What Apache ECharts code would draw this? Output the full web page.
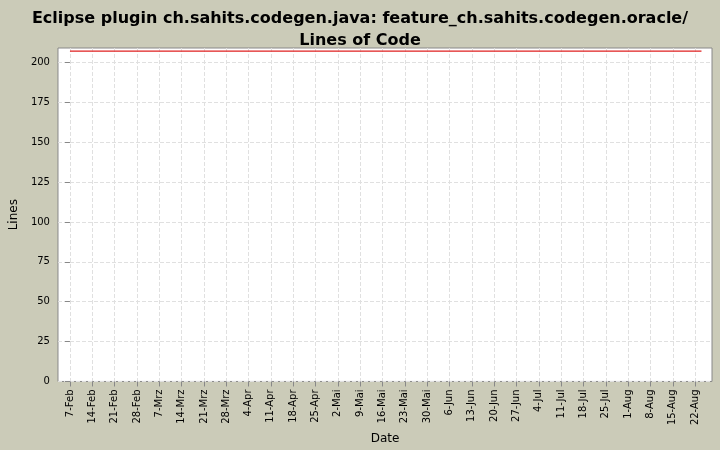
<!DOCTYPE html><html><head><meta charset="utf-8"><script src="https://cdn.jsdelivr.net/npm/echarts@6/dist/echarts.min.js"></script></head>
<body style="margin:0;background:#cbcbb8"><div id="c" style="width:720px;height:450px"></div><script>
const tickLabels=["7-Feb","14-Feb","21-Feb","28-Feb","7-Mrz","14-Mrz","21-Mrz","28-Mrz","4-Apr","11-Apr","18-Apr","25-Apr","2-Mai","9-Mai","16-Mai","23-Mai","30-Mai","6-Jun","13-Jun","20-Jun","27-Jun","4-Jul","11-Jul","18-Jul","25-Jul","1-Aug","8-Aug","15-Aug","22-Aug"];
const pointDays=[0,28,56,84,112,140,168,198];
const lines=[207,207,207,207,207,207,207,207];
const tickDays=tickLabels.map((_,i)=>i*7);
const yTicks=[0,25,50,75,100,125,150,175,200];
const ch=echarts.init(document.getElementById('c'));
ch.setOption({backgroundColor:'#cbcbb8',animation:false,
title:{text:'Eclipse plugin ch.sahits.codegen.java: feature_ch.sahits.codegen.oracle/\nLines of Code',left:'center',top:3,textStyle:{fontFamily:'DejaVu Sans',fontSize:16,fontWeight:'bold',color:'#000',lineHeight:22}},
grid:{left:55,right:8,top:48,bottom:64,show:true,backgroundColor:'#fff',borderColor:'#888',borderWidth:1},
xAxis:{type:'value',min:-3.75,max:201.3,name:'Date',nameLocation:'middle',nameGap:50,nameTextStyle:{fontFamily:'DejaVu Sans',fontSize:12,color:'#000'},
axisLine:{show:false},axisTick:{show:true,customValues:tickDays,lineStyle:{color:'#888'}},
axisLabel:{customValues:tickDays,rotate:90,fontFamily:'DejaVu Sans',fontSize:10,color:'#000',formatter:v=>tickLabels[Math.round(v/7)]},
splitLine:{show:true,customValues:tickDays,lineStyle:{color:'#e0e0e0',type:'dashed'}}},
yAxis:{type:'value',min:0,max:209,name:'Lines',nameLocation:'middle',nameGap:36,nameTextStyle:{fontFamily:'DejaVu Sans',fontSize:12,color:'#000'},
axisLine:{show:false},axisTick:{show:true,customValues:yTicks,lineStyle:{color:'#888'}},
axisLabel:{customValues:yTicks,fontFamily:'DejaVu Sans',fontSize:10,color:'#000'},
splitLine:{show:true,customValues:yTicks,lineStyle:{color:'#e0e0e0',type:'dashed'}}},
series:[{type:'line',data:pointDays.map((d,i)=>[d,lines[i]]),symbol:'none',z:10,lineStyle:{color:'#e02020',width:1.2}}]});
</script></body></html>
